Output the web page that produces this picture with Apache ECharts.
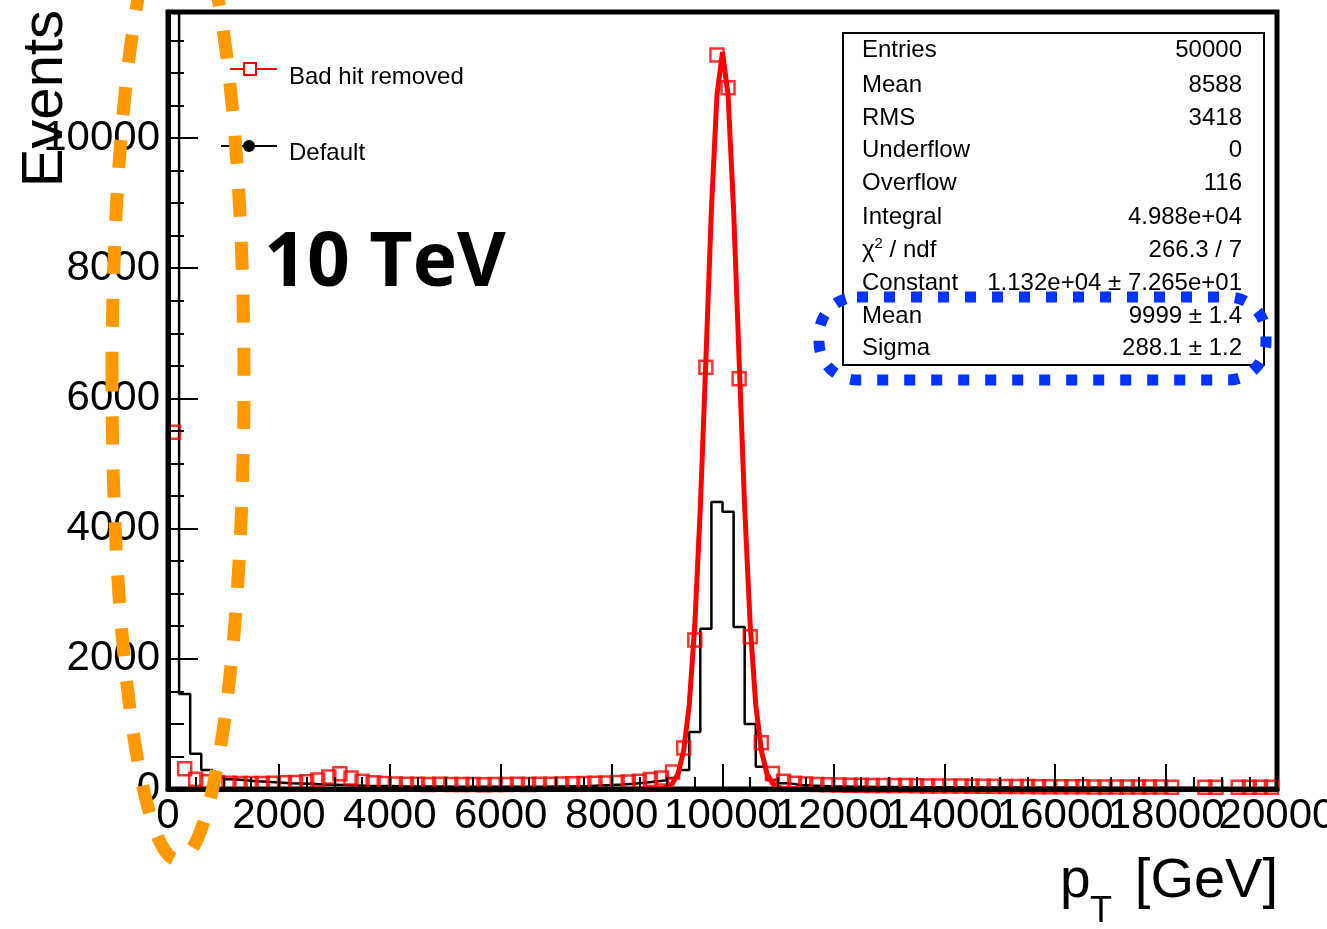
<!DOCTYPE html>
<html>
<head>
<meta charset="utf-8">
<script src="https://cdn.jsdelivr.net/npm/echarts@6/dist/echarts.min.js"></script>
<style>
  html, body { margin: 0; padding: 0; background: #fff; }
  #chart { width: 1327px; height: 929px; }
</style>
</head>
<body>
<div id="chart"></div>
<script>
// histogram: 100 bins of 200 GeV from 0 to 20000
const binWidth = 200
const nBins = 100

// "Default" (black step histogram), first bin is off scale
const defaultCounts = [
  16000, 1460, 540, 290, 185, 150, 135, 120, 110, 100,
  90, 85, 80, 70, 65, 60, 55, 50, 48, 45,
  42, 40, 40, 38, 38, 36, 36, 35, 35, 35,
  34, 34, 35, 36, 38, 40, 44, 48, 55, 62,
  70, 80, 95, 115, 135, 170, 290, 875, 2460, 4410,
  4260, 2490, 1000, 340, 140, 90, 62, 52, 45, 40,
  38, 36, 34, 32, 30, 30, 28, 28, 26, 26,
  25, 24, 24, 23, 22, 22, 21, 20, 20, 20,
  19, 19, 18, 18, 17, 17, 16, 16, 15, 15,
  14, 14, 13, 13, 12, 12, 12, 11, 11, 10
]

// "Bad hit removed" (red open squares), empty bins are not drawn
const badHitCounts = [
  5480, 310, 150, 110, 95, 90, 85, 85, 85, 90,
  95, 100, 110, 140, 185, 235, 170, 120, 95, 85,
  78, 72, 74, 70, 72, 68, 70, 68, 66, 70,
  68, 72, 70, 74, 72, 76, 80, 84, 88, 92,
  98, 106, 120, 145, 170, 260, 630, 2290, 6480, 11275,
  10770, 6300, 2340, 710, 240, 120, 90, 78, 70, 64,
  60, 58, 56, 55, 54, 52, 52, 50, 48, 48,
  46, 45, 44, 42, 42, 40, 38, 38, 36, 35,
  35, 34, 33, 32, 32, 31, 30, 30, 30, 29,
  28, 0, 0, 28, 27, 0, 27, 26, 26, 25
]

// gaussian fit curve as drawn
const fitX = [8600, 8700, 8800, 8900, 9000, 9100, 9200, 9300, 9400, 9500,
  9600, 9700, 9800, 9900, 10000, 10100, 10200, 10300, 10400, 10500,
  10600, 10700, 10800, 10900, 11000, 11100, 11200, 11300, 11400]
const fitY = [0, 0, 2, 8, 27, 86, 240, 590, 1290, 2510,
  4320, 6580, 8900, 10660, 11320, 10660, 8900, 6580, 4320, 2510,
  1290, 590, 240, 86, 27, 8, 2, 0, 0]

const statLabels = ['Entries', 'Mean', 'RMS', 'Underflow', 'Overflow', 'Integral',
  '{a|χ}{s|2}{a| / ndf}', 'Constant', 'Mean', 'Sigma']
const statValues = ['50000', '8588', '3418', '0', '116', '4.988e+04',
  '266.3 / 7', '1.132e+04 ± 7.265e+01', '9999 ± 1.4', '288.1 ± 1.2']
const statRowY = [50, 85, 118, 150, 183, 217, 250, 283, 316, 348]

const font = 'Liberation Sans, Arial, Helvetica, sans-serif'

const stepData = defaultCounts.map((v, i) => [i * binWidth, v])
stepData.push([nBins * binWidth, defaultCounts[nBins - 1]])

const markerData = []
badHitCounts.forEach((v, i) => {
  if (v > 0) markerData.push([i * binWidth + binWidth / 2, v])
})

const fitData = fitX.map((x, i) => [x, fitY[i]])

// stats box
const statsGraphic = [{
  type: 'rect',
  shape: { x: 843, y: 33, width: 421, height: 332 },
  style: { fill: '#fff', stroke: '#000', lineWidth: 2 },
  z: 50
}]
statLabels.forEach((t, i) => {
  statsGraphic.push({
    type: 'text', x: 862, y: statRowY[i], z: 51,
    style: {
      text: t, font: '24px ' + font, fill: '#000', verticalAlign: 'middle', align: 'left',
      rich: { a: { fontSize: 24, fontFamily: font }, s: { fontSize: 15, fontFamily: font, padding: [0, 0, 12, 0] } }
    }
  })
  statsGraphic.push({
    type: 'text', x: 1242, y: statRowY[i], z: 51,
    style: { text: statValues[i], font: '24px ' + font, fill: '#000', verticalAlign: 'middle', align: 'right' }
  })
})

const labelStyle = { color: '#000', fontSize: 42, fontFamily: font, margin: 6, hideOverlap: false }

const chart = echarts.init(document.getElementById('chart'))

chart.setOption({
  animation: false,
  backgroundColor: '#fff',
  grid: {
    left: 168, right: 50, top: 12, bottom: 140,
    outerBoundsMode: 'none', containLabel: false,
    show: true, borderColor: '#000', borderWidth: 5, backgroundColor: 'transparent'
  },
  xAxis: [
    {
      type: 'value', min: 0, max: 20000, interval: 2000, z: 10, position: 'bottom',
      axisLine: { show: true, onZero: false, lineStyle: { color: '#000', width: 5 } },
      axisTick: { show: true, inside: true, length: 25, lineStyle: { color: '#000', width: 2 } },
      minorTick: { show: true, splitNumber: 4, length: 12, lineStyle: { color: '#000', width: 2 } },
      splitLine: { show: false },
      axisLabel: { ...labelStyle, showMinLabel: true, showMaxLabel: false, formatter: v => String(v) }
    },
    {
      // second copy of the bottom axis only to print the last label
      type: 'value', min: 0, max: 20000, interval: 2000, z: 10, position: 'bottom', offset: 0,
      axisLine: { show: false, onZero: false },
      axisTick: { show: false },
      minorTick: { show: false },
      splitLine: { show: false },
      axisLabel: { ...labelStyle, showMinLabel: false, showMaxLabel: true, formatter: v => (v === 20000 ? String(v) : '') }
    }
  ],
  yAxis: {
    type: 'value', min: 0, max: 11935, interval: 2000, z: 10,
    axisLine: { show: true, lineStyle: { color: '#000', width: 5 } },
    axisTick: { show: true, inside: true, length: 30, lineStyle: { color: '#000', width: 2 } },
    minorTick: { show: true, splitNumber: 4, length: 16, lineStyle: { color: '#000', width: 2 } },
    splitLine: { show: false },
    axisLabel: { ...labelStyle, margin: 8, showMaxLabel: false, formatter: v => String(v) }
  },
  series: [
    {
      name: 'Default',
      type: 'line',
      step: 'end',
      data: stepData,
      symbol: 'none',
      lineStyle: { color: '#000', width: 2.5 },
      z: 2
    },
    {
      name: 'Bad hit removed',
      type: 'scatter',
      data: markerData,
      symbol: 'rect',
      symbolSize: 13,
      itemStyle: { color: 'rgba(0,0,0,0)', borderColor: '#ff0000', borderWidth: 2.5 },
      z: 3
    },
    {
      name: 'Fit',
      type: 'line',
      data: fitData,
      symbol: 'none',
      lineStyle: { color: '#ff0000', width: 5 },
      z: 4
    }
  ],
  graphic: [
    // legend
    { type: 'line', shape: { x1: 230, y1: 69, x2: 277, y2: 69 }, style: { stroke: '#ff0000', lineWidth: 2 }, z: 40 },
    { type: 'rect', shape: { x: 244, y: 63, width: 12, height: 12 }, style: { fill: '#fff', stroke: '#ff0000', lineWidth: 2 }, z: 41 },
    { type: 'text', x: 289, y: 77, style: { text: 'Bad hit removed', font: '24px ' + font, fill: '#000', verticalAlign: 'middle' }, z: 40 },
    { type: 'line', shape: { x1: 221, y1: 146, x2: 277, y2: 146 }, style: { stroke: '#000', lineWidth: 2 }, z: 40 },
    { type: 'circle', shape: { cx: 249, cy: 146, r: 6 }, style: { fill: '#000' }, z: 41 },
    { type: 'text', x: 289, y: 153, style: { text: 'Default', font: '24px ' + font, fill: '#000', verticalAlign: 'middle' }, z: 40 },
    // energy label
    { type: 'text', x: 264, y: 265, style: { text: '10 TeV', font: 'bold 75px "Open Sans", sans-serif', fill: '#000', verticalAlign: 'middle' }, z: 40 },
    // axis titles
    { type: 'text', x: 46, y: 10, rotation: Math.PI / 2, style: { text: 'Events', font: '58px ' + font, fill: '#000', align: 'right', verticalAlign: 'middle' }, z: 40 },
    { type: 'text', x: 1060, y: 882, style: { text: 'p', font: '55px ' + font, fill: '#000', verticalAlign: 'middle' }, z: 40 },
    { type: 'text', x: 1090, y: 912, style: { text: 'T', font: '36px ' + font, fill: '#000', verticalAlign: 'middle' }, z: 40 },
    { type: 'text', x: 1278, y: 882, style: { text: '[GeV]', font: '56px ' + font, fill: '#000', align: 'right', verticalAlign: 'middle' }, z: 40 },
    ...statsGraphic,
    // highlight annotations
    { type: 'ellipse', shape: { cx: 178, cy: 380, rx: 66, ry: 480 }, style: { fill: 'none', stroke: '#ff9900', lineWidth: 13, lineDash: [28, 25] }, z: 60 },
    { type: 'rect', shape: { x: 819, y: 297, width: 447, height: 83, r: 38 }, style: { fill: 'none', stroke: '#0033ff', lineWidth: 11, lineDash: [11, 16] }, z: 60 }
  ]
})
</script>
</body>
</html>
